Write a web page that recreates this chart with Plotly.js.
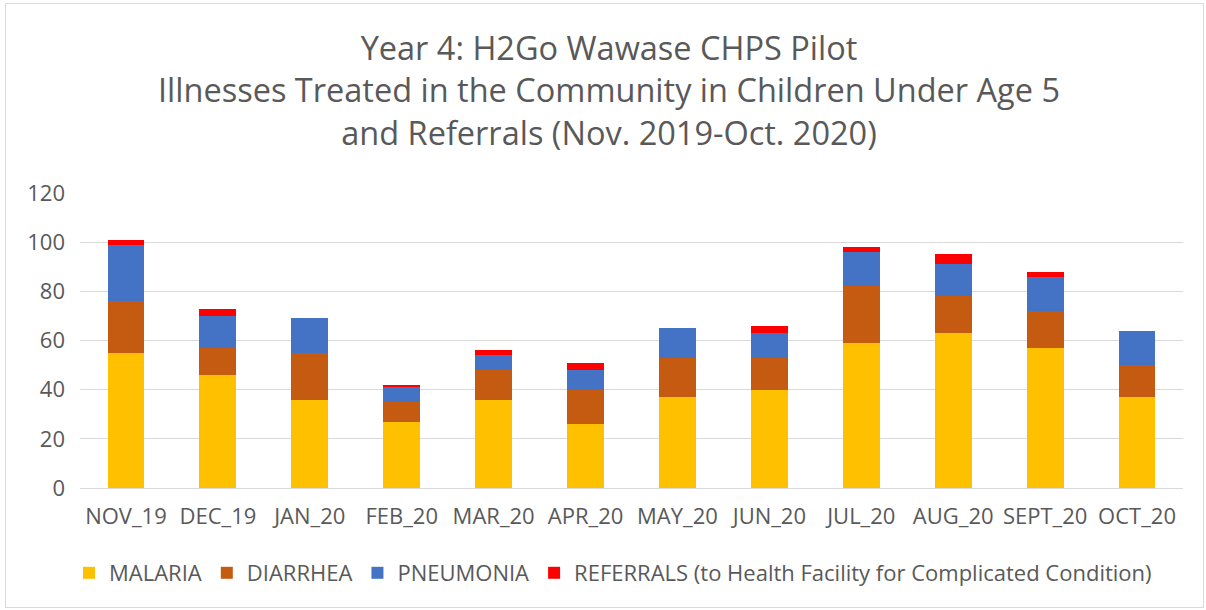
<!DOCTYPE html>
<html><head><meta charset="utf-8">
<script src="https://cdn.plot.ly/plotly-3.0.1.min.js"></script>
<style>html,body{margin:0;padding:0;background:#fff}#wrap{width:1206px;height:610px;position:relative;overflow:hidden}#chart{position:absolute;left:0;top:0}#frame{position:absolute;left:5px;top:3px;width:1197px;height:603px;border:1px solid #d9d9d9;pointer-events:none}</style>
</head><body><div id="wrap"><div id="chart"></div><div id="frame"></div></div>
<script>
const months = ["NOV_19","DEC_19","JAN_20","FEB_20","MAR_20","APR_20","MAY_20","JUN_20","JUL_20","AUG_20","SEPT_20","OCT_20"];
const malaria   = [55,46,36,27,36,26,37,40,59,63,57,37];
const diarrhea  = [21,11,19,8,12,14,16,13,23,15,15,13];
const pneumonia = [23,13,14,6,6,8,12,10,14,13,14,14];
const referrals = [2,3,0,1,2,3,0,3,2,4,2,0];
const seriesNames = ["MALARIA","DIARRHEA","PNEUMONIA","REFERRALS (to Health Facility for Complicated Condition)"];
const colors = ["#FFC000","#C55A11","#4472C4","#FF0000"];
const vals = [malaria, diarrhea, pneumonia, referrals];
const font = "'Open Sans', sans-serif";
const traces = vals.map((v,i)=>({type:"bar", x:months, y:v, name:seriesNames[i], marker:{color:colors[i]}, hoverinfo:"x+y+name"}));
const layout = {
  width:1206, height:610, barmode:"stack", bargap:0.6,
  margin:{l:80,r:23,t:193,b:122},
  paper_bgcolor:"rgba(0,0,0,0)", plot_bgcolor:"#fff",
  font:{family:font, color:"#595959", size:22},
  title:{text:"Year 4: H2Go Wawase CHPS Pilot<br>Illnesses Treated in the Community in Children Under Age 5<br>and Referrals (Nov. 2019-Oct. 2020)", x:0.505, xanchor:"center", y:1-60/610, yanchor:"middle", font:{family:font, size:32.5, color:"#595959"}, subtitle:{text:""}},
  xaxis:{showgrid:false, showline:true, linecolor:"#d9d9d9", ticks:"", tickfont:{size:22, color:"#595959"}, ticklabelstandoff:9},
  yaxis:{range:[0,120], dtick:20, showgrid:true, gridcolor:"#d9d9d9", gridwidth:1, zeroline:true, zerolinecolor:"#d9d9d9", ticks:"", tickfont:{size:22,color:"#595959"}, ticklabelstandoff:14},
  legend:{orientation:"h", x:(613-80)/1103, xanchor:"center", y:-85/295, yanchor:"middle", font:{size:22,color:"#595959"}, traceorder:"normal", itemwidth:20}
};
Plotly.newPlot("chart", traces, layout, {displayModeBar:false});
</script></body></html>
